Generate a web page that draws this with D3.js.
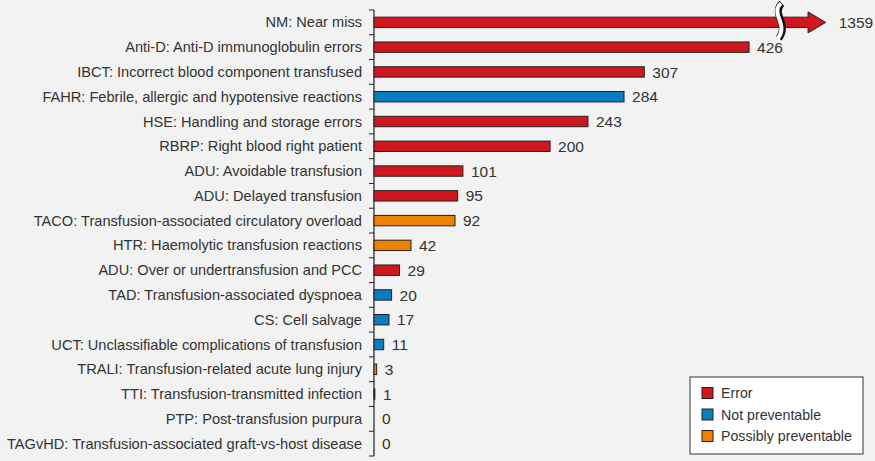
<!DOCTYPE html>
<html><head><meta charset="utf-8">
<script src="https://cdn.jsdelivr.net/npm/d3@7"></script>
<style>
html,body{margin:0;padding:0;background:#f2f2f2;}
svg{display:block;}
text{font-family:"Liberation Sans",Arial,Helvetica,sans-serif;fill:#333;}
</style></head>
<body>
<svg id="chart" width="875" height="461"></svg>
<script>
const categories = [
  "NM: Near miss",
  "Anti-D: Anti-D immunoglobulin errors",
  "IBCT: Incorrect blood component transfused",
  "FAHR: Febrile, allergic and hypotensive reactions",
  "HSE: Handling and storage errors",
  "RBRP: Right blood right patient",
  "ADU: Avoidable transfusion",
  "ADU: Delayed transfusion",
  "TACO: Transfusion-associated circulatory overload",
  "HTR: Haemolytic transfusion reactions",
  "ADU: Over or undertransfusion and PCC",
  "TAD: Transfusion-associated dyspnoea",
  "CS: Cell salvage",
  "UCT: Unclassifiable complications of transfusion",
  "TRALI: Transfusion-related acute lung injury",
  "TTI: Transfusion-transmitted infection",
  "PTP: Post-transfusion purpura",
  "TAGvHD: Transfusion-associated graft-vs-host disease"
];
const values = [1359, 426, 307, 284, 243, 200, 101, 95, 92, 42, 29, 20, 17, 11, 3, 1, 0, 0];
const types = ["Error","Error","Error","Not preventable","Error","Error","Error","Error",
  "Possibly preventable","Possibly preventable","Error","Not preventable","Not preventable",
  "Not preventable","Possibly preventable","Not preventable","Not preventable","Not preventable"];
const legendItems = ["Error", "Not preventable", "Possibly preventable"];
const colors = ["#cf171f", "#0a7cc2", "#ee8200"];
const brokenValue = 1359;   // value drawn with a broken (arrow) bar

const data = categories.map((c, i) => ({cat: c, value: values[i], type: types[i]}));

(function draw() {
const svg = d3.select("#chart");
const axisX = 374, yTop = 10, yBottom = 456;

const x = d3.scaleLinear().domain([0, 500]).range([axisX, axisX + 440.2]);
const y = d3.scaleBand().domain(categories).range([yTop, yBottom]).paddingInner(0.58).paddingOuter(0.29);
const color = d3.scaleOrdinal().domain(legendItems).range(colors);

// y axis with ticks at band boundaries
svg.append("line").attr("x1", axisX).attr("x2", axisX).attr("y1", yTop).attr("y2", yBottom)
  .attr("stroke", "#222").attr("stroke-width", 1.2);
const step = (yBottom - yTop) / categories.length;
d3.range(categories.length + 1).forEach(i => {
  svg.append("line").attr("x1", axisX - 5).attr("x2", axisX).attr("y1", yTop + i * step).attr("y2", yTop + i * step)
    .attr("stroke", "#222").attr("stroke-width", 1);
});

// category labels
svg.append("g").selectAll("text").data(data).join("text")
  .attr("x", axisX - 12)
  .attr("y", d => y(d.cat) + y.bandwidth() / 2)
  .attr("dy", "0.35em")
  .attr("text-anchor", "end")
  .attr("font-size", 14.6)
  .text(d => d.cat);

// normal bars
const normal = data.filter(d => d.value !== brokenValue);
svg.append("g").selectAll("rect").data(normal).join("rect")
  .attr("x", axisX)
  .attr("y", d => y(d.cat))
  .attr("width", d => Math.max(0, x(d.value) - axisX))
  .attr("height", y.bandwidth())
  .attr("fill", d => color(d.type))
  .attr("stroke", "#222")
  .attr("stroke-width", d => d.value > 0 ? 1 : 0);

// value labels
svg.append("g").selectAll("text").data(normal).join("text")
  .attr("x", d => x(d.value) + 8)
  .attr("y", d => y(d.cat) + y.bandwidth() / 2)
  .attr("dy", "0.36em")
  .attr("font-size", 15.5)
  .text(d => d.value);

// broken bar (arrow)
const bd = data.find(d => d.value === brokenValue);
const by = y(bd.cat), bh = y.bandwidth(), bc = by + bh / 2;
const headStart = x(493), tip = x(513), breakX = x(461);
const arrowPath = [
  [axisX, by], [headStart, by], [headStart, bc - 10.5], [tip, bc],
  [headStart, bc + 10.5], [headStart, by + bh], [axisX, by + bh]
];
svg.append("path").attr("d", d3.line()(arrowPath) + "Z")
  .attr("fill", color(bd.type)).attr("stroke", "#222").attr("stroke-width", 1);
// break squiggle
const sq = d3.path();
sq.moveTo(breakX + 2, bc - 19);
sq.bezierCurveTo(breakX - 9, bc - 9, breakX + 10, bc + 2, breakX - 1, bc + 16);
svg.append("path").attr("d", sq.toString()).attr("fill", "none").attr("stroke", "#111").attr("stroke-width", 7);
svg.append("path").attr("d", sq.toString()).attr("fill", "none").attr("stroke", "#fff").attr("stroke-width", 4)
  .attr("transform", "translate(-1,0)");
svg.append("text").attr("x", tip + 13).attr("y", bc).attr("dy", "0.36em")
  .attr("font-size", 15.5).text(bd.value);

// legend
const lg = svg.append("g").attr("transform", "translate(690,377)");
lg.append("rect").attr("width", 173).attr("height", 77).attr("fill", "#fff").attr("stroke", "#333").attr("stroke-width", 1);
legendItems.forEach((k, i) => {
  const gy = 16 + i * 21.5;
  lg.append("rect").attr("x", 12).attr("y", gy - 5.5).attr("width", 11).attr("height", 11)
    .attr("fill", color(k)).attr("stroke", "#222").attr("stroke-width", 1);
  lg.append("text").attr("x", 31).attr("y", gy).attr("dy", "0.36em").attr("font-size", 14.2).text(k);
});
})();
</script>
</body></html>
